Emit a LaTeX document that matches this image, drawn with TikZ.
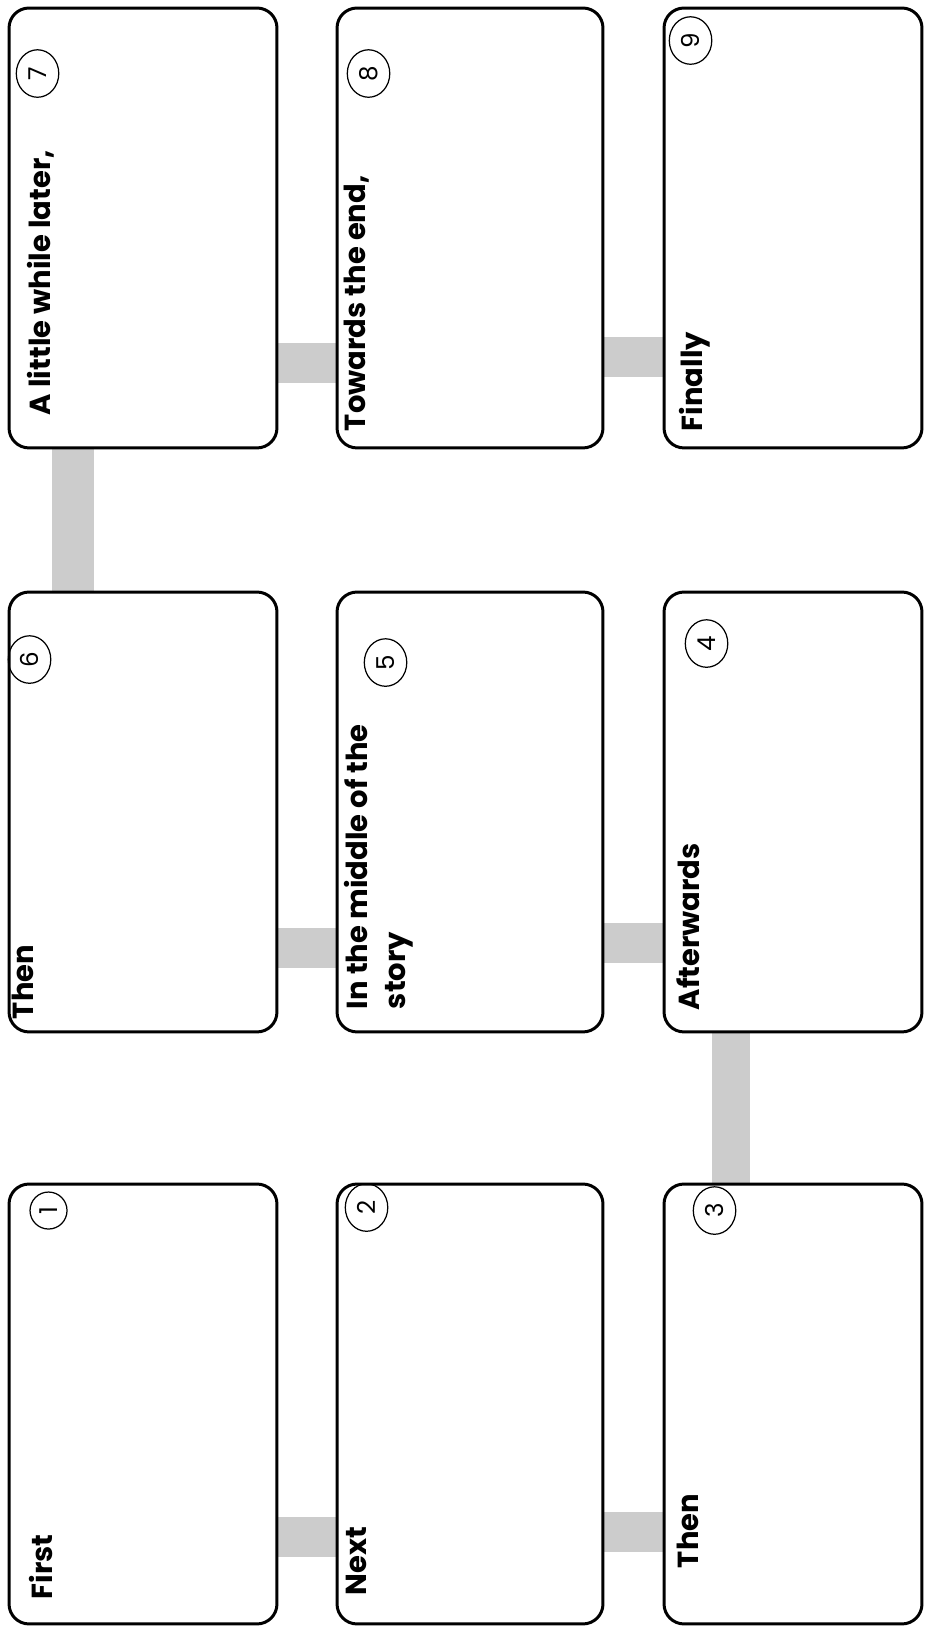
\documentclass[tikz,border=0pt]{standalone}
\usepackage{fontspec}
\setmainfont{Poppins}
\usetikzlibrary{positioning,calc,backgrounds,shapes.geometric}

\tikzset{
  card/.style={draw, line width=1.7pt, rounded corners=0.4cm, fill=white, minimum height=8.8cm, inner sep=0pt},
  lbl/.style={rotate=90, anchor=north west, inner sep=0pt, align=left, font=\fontsize{16.5}{22}\selectfont\bfseries},
  num/.style={draw, ellipse, rotate=90, line width=0.7pt, inner sep=0pt, minimum width=0.95cm, minimum height=0.85cm, font=\fontsize{14}{14}\selectfont},
  link/.style={line width=0.8cm, gray!40},
}

\begin{document}
\begin{tikzpicture}[x=0.02cm,y=0.02cm]
\useasboundingbox (0,0) rectangle (924,1631);
% story boxes, row by row
\node[card, minimum width=5.36cm] (a) at (143,1403) {};
\node[card, minimum width=5.32cm] (b) at (470,1403) {};
\node[card, minimum width=5.16cm] (c) at (793,1403) {};
\node[card, minimum width=5.36cm] (d) at (143,819) {};
\node[card, minimum width=5.32cm] (e) at (470,819) {};
\node[card, minimum width=5.16cm] (f) at (793,819) {};
\node[card, minimum width=5.36cm] (g) at (143,227) {};
\node[card, minimum width=5.32cm] (h) at (470,227) {};
\node[card, minimum width=5.16cm] (i) at (793,227) {};

% grey links behind the boxes
\begin{scope}[on background layer]
\draw[link] ($(a.east)+(0,-135)$) -- ($(b.west)+(0,-135)$);
\draw[link] ($(b.east)+(0,-129)$) -- ($(c.west)+(0,-129)$);
\draw[link, line width=0.84cm] ($(a.south)+(-70,0)$) -- ($(d.north)+(-70,0)$);
\draw[link] ($(d.east)+(0,-136)$) -- ($(e.west)+(0,-136)$);
\draw[link] ($(e.east)+(0,-131)$) -- ($(f.west)+(0,-131)$);
\draw[link, line width=0.76cm] ($(f.south)+(-62,0)$) -- ($(i.north)+(-62,0)$);
\draw[link] ($(g.east)+(0,-133)$) -- ($(h.west)+(0,-133)$);
\draw[link] ($(h.east)+(0,-128)$) -- ($(i.west)+(0,-128)$);
\end{scope}

% headings
\node[lbl] (la) at ($(a.south west)+(19,34)$) {A little while later,};
\node[lbl] (lb) at ($(b.south west)+(8,18)$) {Towards the end,};
\node[lbl] (lc) at ($(c.south west)+(16,18)$) {Finally};
\node[lbl] (ld) at ($(d.south west)+(4,14)$) {Then};
\node[lbl] (le) at ($(e.south west)+(8,24)$) {In the middle of the\\story};
\node[lbl] (lf) at ($(f.south west)+(14,23)$) {Afterwards};
\node[lbl] (lg) at ($(g.south west)+(21,26)$) {First};
\node[lbl] (lh) at ($(h.south west)+(10,30)$) {Next};
\node[lbl] (li) at ($(i.south west)+(14,57)$) {Then};

% circled numbers
\node[num, minimum width=0.74cm, minimum height=0.74cm] (n1) at ($(g.north west)+(41,-28)$) {1};
\node[num] (n2) at ($(h.north west)+(31,-25)$) {2};
\node[num] (n3) at ($(i.north west)+(52,-28)$) {3};
\node[num] (n4) at ($(f.north west)+(44,-53)$) {4};
\node[num] (n5) at ($(e.north west)+(50,-72)$) {5};
\node[num] (n6) at ($(d.north west)+(22,-69)$) {6};
\node[num] (n7) at ($(a.north west)+(30,-67)$) {7};
\node[num] (n8) at ($(b.north west)+(33,-67)$) {8};
\node[num] (n9) at ($(c.north west)+(28,-34)$) {9};
\end{tikzpicture}
\end{document}
